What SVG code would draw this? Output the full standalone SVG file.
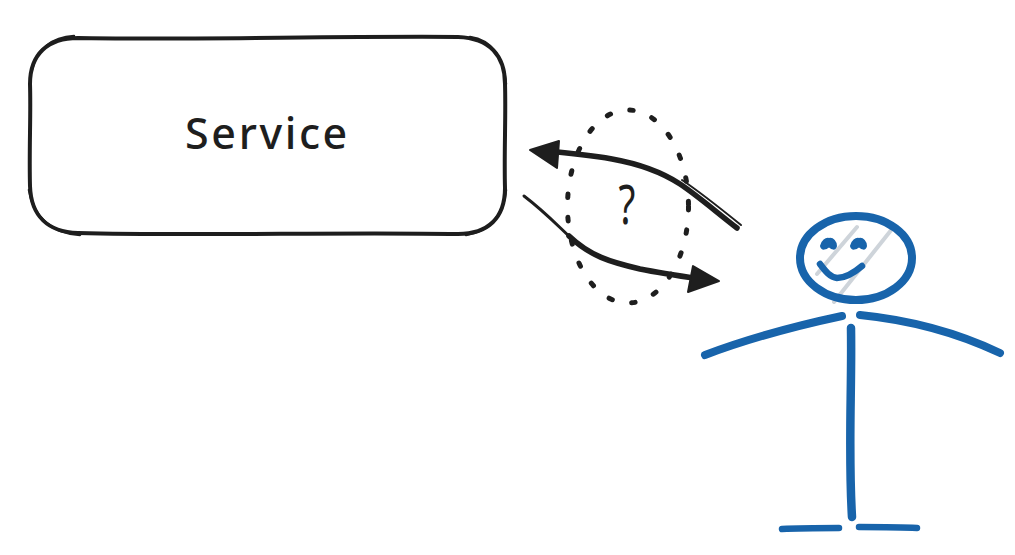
<svg xmlns="http://www.w3.org/2000/svg" width="1015" height="555" viewBox="0 0 1015 555">
<style>
.ink{fill:none;stroke:#1e1e1e;stroke-linecap:round;stroke-linejoin:round}
.blue{fill:none;stroke:#1864ab;stroke-linecap:round;stroke-linejoin:round}
.hatch{fill:none;stroke:#ced4da;stroke-width:4;stroke-linecap:round}
.head{fill:#1e1e1e;stroke:#1e1e1e;stroke-width:2;stroke-linejoin:round}
.eye{fill:#1864ab;stroke:#1864ab;stroke-width:2;stroke-linejoin:round}
text{fill:#1e1e1e;font-family:"Noto Sans","DejaVu Sans",sans-serif}
</style>
<rect width="1015" height="555" fill="#fff"/>
<g id="service">
<path class="ink" stroke-width="4" d="M78 38C180 40 340 36 458 37C490 38 505 56 505 84C506 115 504 155 505 188C505 218 488 234 458 234C340 232 190 236 78 233C48 232 31 216 30 186C29 150 31 115 30 84C30 54 48 38 78 38Z"/>
<path class="ink" stroke-width="2.500" d="M32 70C36 50 52 37 74 36M470 37C492 40 504 58 506 84M506 190C504 215 490 231 466 235M80 235C54 233 34 220 29 190"/>
<text x="267.500" y="149" font-size="43" font-weight="500" letter-spacing="2.600" text-anchor="middle">Service</text>
</g>
<g id="question">
<ellipse cx="628" cy="206.500" rx="60.500" ry="96.500" fill="none" stroke="#1e1e1e" stroke-width="5" stroke-linecap="round" stroke-dasharray="3.500 20"/>
<text transform="translate(627 224) scale(.72 1)" font-size="54" text-anchor="middle">?</text>
</g>
<g id="connectors">
<g id="arrow-to-service">
<path class="ink" stroke-width="5.500" d="M737 228C715 211 698 196 680 184C660 171 640 164 612 159C590 155 570 153 545 151"/>
<path class="ink" stroke-width="2" d="M741 225C720 208 700 192 682 180"/>
<path class="head" d="M530 150L559 141L557 168Z"/>
</g>
<g id="arrow-to-person">
<path class="ink" stroke-width="3" d="M524 196C545 212 558 226 571 238"/>
<path class="ink" stroke-width="5.500" d="M569 236C590 256 610 262 640 269C660 273 680 276 700 279"/>
<path class="head" d="M719 281L693 266L688 292Z"/>
</g>
</g>
<g id="person">
<path class="hatch" d="M857 227L817 274M892 229L834 302"/>
<ellipse cx="856" cy="258" rx="56" ry="42" fill="none" stroke="#1864ab" stroke-width="8"/>
<path class="eye" d="M821 246C822 241 826 238 829 239C833 238 836 242 836 246C835 250 832 249 829 246C826 249 822 250 821 246Z"/>
<path class="eye" d="M851 246C852 241 856 238 859 239C863 238 866 242 866 246C865 250 862 249 859 246C856 249 852 250 851 246Z"/>
<path class="blue" stroke-width="6.500" d="M820 264C826 272 830 277 837 278C846 278 855 272 862 266"/>
<path class="blue" stroke-width="8" d="M705 355C750 338 795 326 842 316"/>
<path class="blue" stroke-width="8" d="M860 315C910 320 960 334 1000 353"/>
<path class="blue" stroke-width="8.500" d="M851 328C852 390 848 450 852 517"/>
<path class="blue" stroke-width="6.500" d="M782 529C800 528 820 528 839 528"/>
<path class="blue" stroke-width="6.500" d="M859 527C880 527 900 527 917 528"/>
</g>
</svg>
